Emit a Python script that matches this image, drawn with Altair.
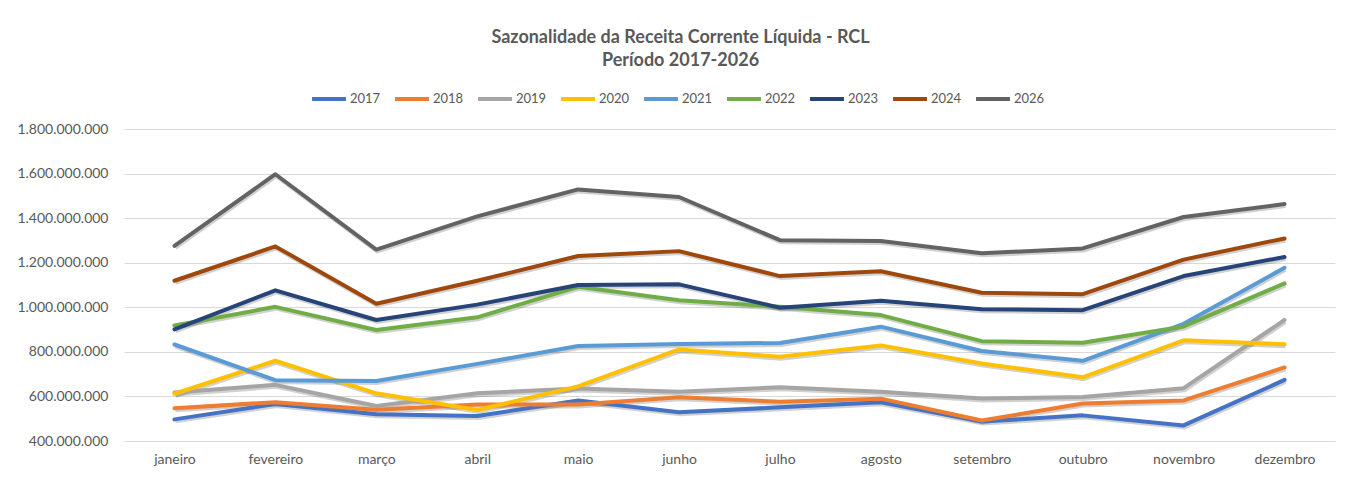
import altair as alt
import pandas as pd

months = ["janeiro", "fevereiro", "março", "abril", "maio", "junho",
          "julho", "agosto", "setembro", "outubro", "novembro", "dezembro"]

years = ["2017", "2018", "2019", "2020", "2021", "2022", "2023", "2024", "2026"]

v2017 = [497e6, 566e6, 520e6, 512e6, 582e6, 529e6, 551e6, 574e6, 487e6, 515e6, 470e6, 674e6]
v2018 = [547e6, 574e6, 540e6, 564e6, 564e6, 596e6, 576e6, 590e6, 492e6, 568e6, 582e6, 730e6]
v2019 = [618e6, 652e6, 557e6, 614e6, 636e6, 621e6, 641e6, 621e6, 591e6, 597e6, 637e6, 943e6]
v2020 = [612e6, 760e6, 614e6, 539e6, 645e6, 811e6, 778e6, 829e6, 748e6, 686e6, 852e6, 834e6]
v2021 = [833e6, 673e6, 669e6, 746e6, 826e6, 835e6, 840e6, 913e6, 804e6, 760e6, 926e6, 1177e6]
v2022 = [918e6, 1002e6, 898e6, 955e6, 1092e6, 1032e6, 1002e6, 965e6, 848e6, 841e6, 914e6, 1107e6]
v2023 = [901e6, 1076e6, 943e6, 1012e6, 1100e6, 1103e6, 998e6, 1029e6, 991e6, 987e6, 1140e6, 1226e6]
v2024 = [1119e6, 1273e6, 1016e6, 1119e6, 1230e6, 1252e6, 1140e6, 1162e6, 1065e6, 1059e6, 1214e6, 1309e6]
v2026 = [1276e6, 1597e6, 1259e6, 1408e6, 1529e6, 1495e6, 1301e6, 1297e6, 1242e6, 1264e6, 1405e6, 1463e6]

series = [v2017, v2018, v2019, v2020, v2021, v2022, v2023, v2024, v2026]
colors = ["#4472C4", "#ED7D31", "#A5A5A5", "#FFC000", "#5B9BD5",
          "#70AD47", "#264478", "#9E480E", "#636363"]

y_ticks = [400e6, 600e6, 800e6, 1000e6, 1200e6, 1400e6, 1600e6, 1800e6]

rows = []
for yr, vals in zip(years, series):
    for m, v in zip(months, vals):
        rows.append({"ano": yr, "mes": m, "valor": v})
df = pd.DataFrame(rows)

FONT = "Lato"
GREY = "#595959"

x_enc = alt.X("mes:N", sort=months, title=None,
              axis=alt.Axis(labelAngle=0, labelFont=FONT, labelFontSize=14,
                            labelColor=GREY, domain=False, ticks=False,
                            labelPadding=11, grid=False))
y_enc = alt.Y("valor:Q", title=None,
              scale=alt.Scale(domain=[400e6, 1800e6], nice=False, zero=False),
              axis=alt.Axis(values=y_ticks, labelFont=FONT, labelFontSize=14,
                            labelColor=GREY, domain=False, ticks=False,
                            labelPadding=16, gridColor="#D9D9D9", gridWidth=1,
                            labelExpr="replace(format(datum.value, ',.0f'), /,/g, '.')"))

shadow = alt.Chart(df).mark_line(strokeWidth=4, color="#000000", opacity=0.18,
                                 xOffset=1, yOffset=2).encode(
    x=x_enc, y=y_enc, detail="ano:N")

lines = alt.Chart(df).mark_line(strokeWidth=4, strokeCap="round", strokeJoin="round").encode(
    x=x_enc, y=y_enc,
    color=alt.Color("ano:N", sort=years,
                    scale=alt.Scale(domain=years, range=colors),
                    legend=alt.Legend(title=None, orient="none", direction="horizontal",
                                      columns=9, legendX=186, legendY=-49,
                                      symbolType="stroke", symbolSize=1150,
                                      symbolStrokeWidth=4, labelFont=FONT,
                                      labelFontSize=13, labelColor=GREY,
                                      labelOffset=2, columnPadding=6)))

chart = alt.layer(shadow, lines).properties(
    width=1211, height=312,
    autosize=alt.AutoSizeParams(type="none"),
    padding={"left": 116, "top": 121, "right": 4, "bottom": 25},
    title=alt.TitleParams(text=["Sazonalidade da Receita Corrente Líquida - RCL",
                                "Período 2017-2026"],
                          anchor="middle", font=FONT, fontSize=18, fontWeight="bold",
                          color=GREY, lineHeight=23, offset=10, dx=-49),
).configure_view(stroke=None)

chart.save("out.html", embed_options={"renderer": "svg", "actions": False})
